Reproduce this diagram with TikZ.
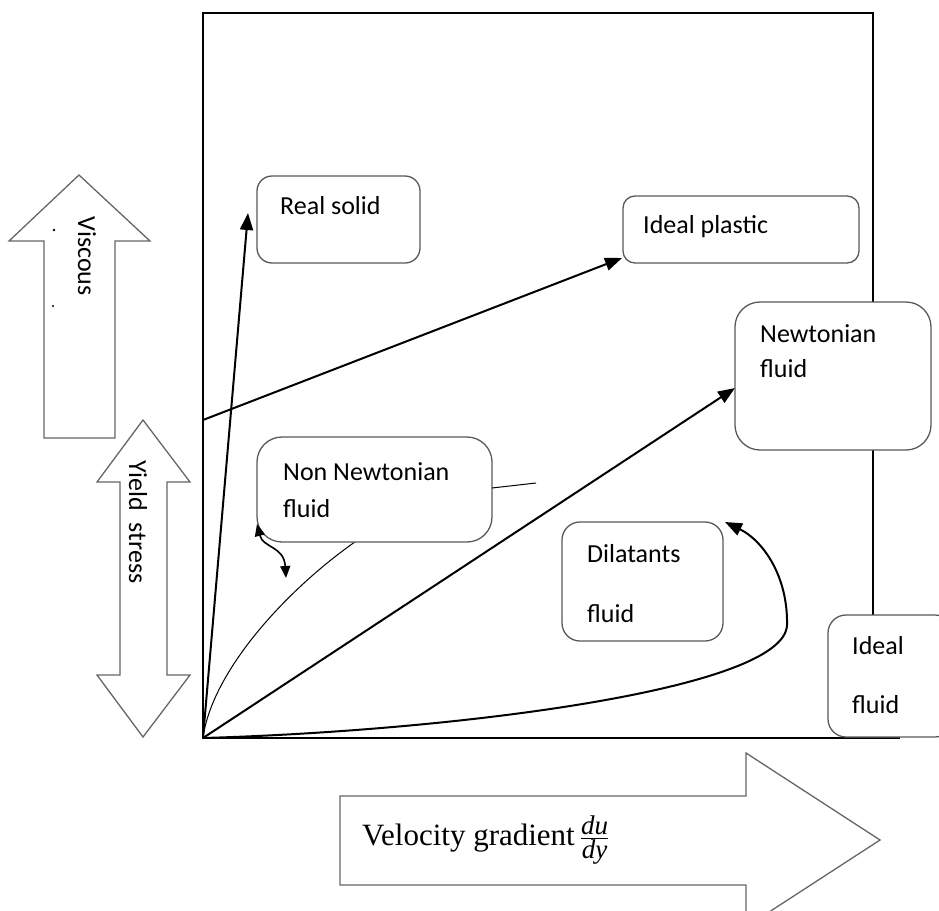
\RequirePackage{fix-cm}
\documentclass[tikz,border=0pt]{standalone}
\usepackage{amsmath}
\usepackage{fontspec}
\setmainfont{Liberation Serif}
\newfontfamily\lblfont{Carlito}
\usetikzlibrary{arrows.meta}
\begin{document}
\begin{tikzpicture}[x=1pt,y=-1pt,
  box/.style={draw=black!65, line width=1.3pt, fill=white, rounded corners=#1,
    inner sep=0pt, outer sep=0pt, anchor=north west},
  box/.default=15pt,
  lbl/.style={font=\lblfont\fontsize{26}{30}\selectfont, anchor=base west, inner sep=0pt},
  frameline/.style={line width=1.8pt, black},
  conn/.style={line width=2pt, -{Triangle[length=17pt,width=13pt]}},
  blockarrow/.style={draw=black!60, line width=1.3pt, fill=white, line join=miter},
]
\useasboundingbox (0,0) rectangle (939,910);
\clip (0,0) rectangle (939,910);

% frame
\draw[line width=1.5pt] (203,13) rectangle (873,738);
\draw[frameline] (203,13) -- (203,738) -- (900,738);

% coordinates
\coordinate (O) at (203,738);
\coordinate (Y) at (203,420);
\coordinate (rsT) at (248,213);
\coordinate (ipT) at (622,258);
\coordinate (nfT) at (735,388);
\coordinate (dfT) at (725,522);
\coordinate (nnA) at (257,524);
\coordinate (nnB) at (286,578);
\coordinate (nnL) at (536,483);

% Non Newtonian curve (under box)
\draw[line width=1pt] (O) .. controls (212,670) and (290,585) .. (365,535);

% connectors
\draw[conn] (O) -- (rsT);
\draw[conn] (Y) -- (ipT);
\draw[conn] (O) -- (nfT);
\draw[conn] (O) .. controls (450,731) and (785,690) .. (787,625)
                .. controls (788,575) and (762,540) .. (dfT);

% boxes
\node[box=15pt, minimum width=163pt, minimum height=87pt] (rs) at (257,176) {};
\node[box=12pt, minimum width=236pt, minimum height=67pt] (ip) at (623,196) {};
\node[box=25pt, minimum width=196pt, minimum height=148pt] (nf) at (735,302) {};
\node[box=25pt, minimum width=235pt, minimum height=105pt] (nn) at (257,437) {};
\node[box=18pt, minimum width=161pt, minimum height=119pt] (df) at (562,522) {};
\node[box=18pt, minimum width=125pt, minimum height=122pt] (if) at (828,615) {};

\draw[line width=1pt] (nn.east |- 0,488) -- (nnL);
\draw[line width=1.6pt, {Triangle[length=12pt,width=10pt]}-{Triangle[length=12pt,width=10pt]}]
  (nnA) .. controls (263,548) and (284,546) .. (nnB);

% labels
\node[lbl] (rsl) at (280,214) {Real solid};
\node[lbl] (ipl) at (643,233) {Ideal plastic};
\node[lbl] (nfl1) at (760,342) {Newtonian};
\node[lbl] (nfl2) at (760,377) {fluid};
\node[lbl] (nnl1) at (283,480) {Non Newtonian};
\node[lbl] (nnl2) at (283,517) {fluid};
\node[lbl] (dfl1) at (587,562) {Dilatants};
\node[lbl] (dfl2) at (587,622) {fluid};
\node[lbl] (ifl1) at (852,654) {Ideal};
\node[lbl] (ifl2) at (852,713) {fluid};

% Viscous block arrow
\draw[blockarrow] (79,175) -- (150,241) -- (115,241) -- (115,438) -- (44,438) -- (44,241) -- (9,241) -- cycle;
\node[lbl, anchor=center, rotate=-90] (visc) at (87,256) {Viscous};
\fill (54,230) circle (1.3pt);
\fill (53,306) circle (1.1pt);

% Yield stress double block arrow
\draw[blockarrow] (143,420) -- (190,482) -- (167,482) -- (167,675) -- (190,675) -- (143,737)
  -- (97,675) -- (120,675) -- (120,482) -- (97,482) -- cycle;
\node[lbl, anchor=center, rotate=-90] (ys) at (138,522) {Yield\ \ stress};

% Velocity gradient block arrow
\draw[blockarrow] (340,796) -- (746,796) -- (746,753) -- (880,840) -- (746,927) -- (746,885) -- (340,885) -- cycle;
\node[font=\fontsize{31}{36}\selectfont, anchor=base west, inner sep=0pt] (vg) at (362,845)
  {Velocity gradient\,{\fontsize{27}{32}\selectfont$\frac{\mbox{\textit{du}}}{\mbox{\textit{dy}}}$}};
\end{tikzpicture}
\end{document}
